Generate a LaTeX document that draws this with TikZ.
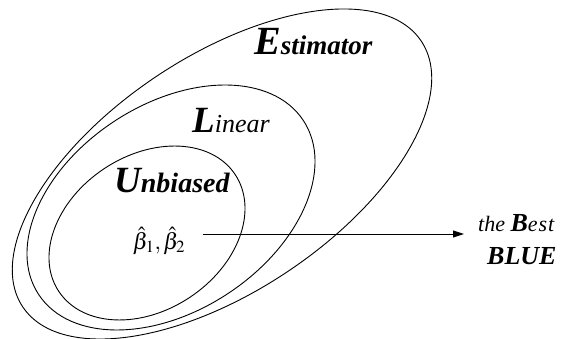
\documentclass[tikz,border=0pt]{standalone}
\usepackage{mathptmx}
\usepackage{fontspec}
\setmainfont{Liberation Serif}
\usetikzlibrary{arrows.meta}

\newcommand{\fsz}[1]{\fontsize{#1}{#1}\selectfont}

\begin{document}
\begin{tikzpicture}[x=1pt, y=1pt,
      menge/.style={draw, line width=0.9pt},
      lbl/.style={anchor=base west, inner sep=0pt},
      >={Triangle[length=11pt, width=7pt]}
    ]
    \useasboundingbox (0,0) rectangle (569,339);

    % Drei verschachtelte, gedrehte Mengen
    \draw[menge, rotate around={33.7:(222,165)}] (222,165) ellipse [x radius=239.5, y radius=117.6];
    \draw[menge, rotate around={33.3:(171,131.5)}] (171,131.5) ellipse [x radius=158.4, y radius=103.2];
    \draw[menge, rotate around={33.5:(147,106)}] (147,106) ellipse [x radius=105.8, y radius=77.3];

    % Beschriftungen der Mengen
    \node[lbl] (est) at (254,284) {\bfseries\itshape\fsz{40}E\fsz{27}stimator};
    \node[lbl] (lin) at (192,206) {\itshape{\bfseries\fsz{37}L}\fsz{26}inear};
    \node[lbl] (unb) at (114,146) {\bfseries\itshape\fsz{37}U\fsz{28}nbiased};

    % Schaetzer und Pfeil zum Ergebnis
    \node (beta) at (159,98) {\fsz{23}$\hat{\beta}_1,\hat{\beta}_2$};
    \coordinate (tip) at (464,105);
    \draw[->, line width=0.9pt] ([xshift=14pt]beta.east |- tip) -- (tip);

    \node[lbl] (best) at (478,107) {\itshape\fsz{22}the {\bfseries\fsz{26}B}e\kern1pt s\kern1pt t};
    \node[lbl] (blue) at (487,74) {\bfseries\itshape\fsz{26}BLUE};
  \end{tikzpicture}
\end{document}
